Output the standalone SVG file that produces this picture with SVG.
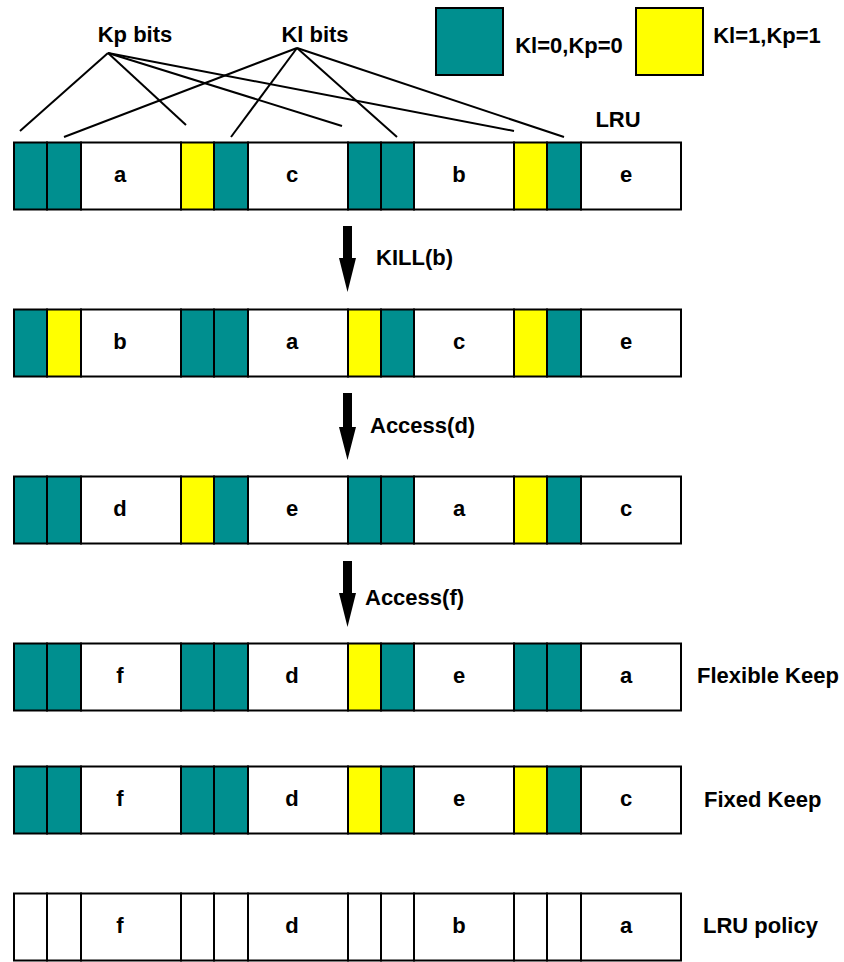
<svg xmlns="http://www.w3.org/2000/svg" width="844" height="962" viewBox="0 0 844 962">
<style>
.t{fill:#008F8F;stroke:#000;stroke-width:2}
.y{fill:#FFFF00;stroke:#000;stroke-width:2}
.w{fill:#FFFFFF;stroke:#000;stroke-width:2}
.lbl{font-family:"Liberation Sans",Arial,sans-serif;font-weight:bold;font-size:22px;fill:#000}
.c{text-anchor:middle}
.ln{stroke:#000;stroke-width:2;fill:none}
.arr{fill:#000}
</style>
<rect x="0" y="0" width="844" height="962" fill="#FFFFFF"/>
<g id="connectors">
<line class="ln" x1="108" y1="53" x2="20" y2="131"/>
<line class="ln" x1="108" y1="53" x2="186" y2="125"/>
<line class="ln" x1="108" y1="53" x2="342" y2="126"/>
<line class="ln" x1="108" y1="53" x2="514" y2="131"/>
<line class="ln" x1="297" y1="48" x2="64" y2="137"/>
<line class="ln" x1="297" y1="48" x2="231" y2="137"/>
<line class="ln" x1="297" y1="48" x2="397" y2="137"/>
<line class="ln" x1="297" y1="48" x2="564" y2="137"/>
<polygon class="arr" points="343,226 352,226 352,258 356,258 347.5,292 339,258 343,258"/>
<polygon class="arr" points="343,393 352,393 352,427 356,427 347.5,460 339,427 343,427"/>
<polygon class="arr" points="343,561 352,561 352,593 356,593 347.5,627 339,593 343,593"/>
</g>
<g id="labels">
<text class="lbl c" x="135" y="42">Kp bits</text>
<text class="lbl c" x="315" y="42">Kl bits</text>
<text class="lbl c" x="618" y="127">LRU</text>
<text class="lbl" x="376" y="265">KILL(b)</text>
<text class="lbl" x="370" y="433">Access(d)</text>
<text class="lbl" x="365" y="605">Access(f)</text>
<text class="lbl" x="697" y="683">Flexible Keep</text>
<text class="lbl" x="704" y="807">Fixed Keep</text>
<text class="lbl" x="703" y="933">LRU policy</text>
</g>
<g id="legend">
<rect class="t" x="436" y="8" width="67" height="67"/>
<text class="lbl c" x="569" y="53">Kl=0,Kp=0</text>
<rect class="y" x="636" y="8" width="67" height="67"/>
<text class="lbl c" x="767" y="43">Kl=1,Kp=1</text>
</g>
<g id="row1" transform="translate(0,142.5)">
<rect class="t" x="14" y="0" width="33" height="67"/><rect class="t" x="47" y="0" width="34" height="67"/>
<rect class="w" x="81" y="0" width="100" height="67"/>
<rect class="y" x="181" y="0" width="33" height="67"/><rect class="t" x="214" y="0" width="34" height="67"/>
<rect class="w" x="248" y="0" width="100" height="67"/>
<rect class="t" x="348" y="0" width="33" height="67"/><rect class="t" x="381" y="0" width="33" height="67"/>
<rect class="w" x="414" y="0" width="100" height="67"/>
<rect class="y" x="514" y="0" width="33" height="67"/><rect class="t" x="547" y="0" width="34" height="67"/>
<rect class="w" x="581" y="0" width="100" height="67"/>
<text class="lbl c" x="120" y="39.5">a</text><text class="lbl c" x="292" y="39.5">c</text><text class="lbl c" x="459" y="39.5">b</text><text class="lbl c" x="626" y="39.5">e</text>
</g>
<g id="row2" transform="translate(0,309.5)">
<rect class="t" x="14" y="0" width="33" height="67"/><rect class="y" x="47" y="0" width="34" height="67"/>
<rect class="w" x="81" y="0" width="100" height="67"/>
<rect class="t" x="181" y="0" width="33" height="67"/><rect class="t" x="214" y="0" width="34" height="67"/>
<rect class="w" x="248" y="0" width="100" height="67"/>
<rect class="y" x="348" y="0" width="33" height="67"/><rect class="t" x="381" y="0" width="33" height="67"/>
<rect class="w" x="414" y="0" width="100" height="67"/>
<rect class="y" x="514" y="0" width="33" height="67"/><rect class="t" x="547" y="0" width="34" height="67"/>
<rect class="w" x="581" y="0" width="100" height="67"/>
<text class="lbl c" x="120" y="39.5">b</text><text class="lbl c" x="292" y="39.5">a</text><text class="lbl c" x="459" y="39.5">c</text><text class="lbl c" x="626" y="39.5">e</text>
</g>
<g id="row3" transform="translate(0,476.5)">
<rect class="t" x="14" y="0" width="33" height="67"/><rect class="t" x="47" y="0" width="34" height="67"/>
<rect class="w" x="81" y="0" width="100" height="67"/>
<rect class="y" x="181" y="0" width="33" height="67"/><rect class="t" x="214" y="0" width="34" height="67"/>
<rect class="w" x="248" y="0" width="100" height="67"/>
<rect class="t" x="348" y="0" width="33" height="67"/><rect class="t" x="381" y="0" width="33" height="67"/>
<rect class="w" x="414" y="0" width="100" height="67"/>
<rect class="y" x="514" y="0" width="33" height="67"/><rect class="t" x="547" y="0" width="34" height="67"/>
<rect class="w" x="581" y="0" width="100" height="67"/>
<text class="lbl c" x="120" y="39.5">d</text><text class="lbl c" x="292" y="39.5">e</text><text class="lbl c" x="459" y="39.5">a</text><text class="lbl c" x="626" y="39.5">c</text>
</g>
<g id="row4" transform="translate(0,643.5)">
<rect class="t" x="14" y="0" width="33" height="67"/><rect class="t" x="47" y="0" width="34" height="67"/>
<rect class="w" x="81" y="0" width="100" height="67"/>
<rect class="t" x="181" y="0" width="33" height="67"/><rect class="t" x="214" y="0" width="34" height="67"/>
<rect class="w" x="248" y="0" width="100" height="67"/>
<rect class="y" x="348" y="0" width="33" height="67"/><rect class="t" x="381" y="0" width="33" height="67"/>
<rect class="w" x="414" y="0" width="100" height="67"/>
<rect class="t" x="514" y="0" width="33" height="67"/><rect class="t" x="547" y="0" width="34" height="67"/>
<rect class="w" x="581" y="0" width="100" height="67"/>
<text class="lbl c" x="120" y="39.5">f</text><text class="lbl c" x="292" y="39.5">d</text><text class="lbl c" x="459" y="39.5">e</text><text class="lbl c" x="626" y="39.5">a</text>
</g>
<g id="row5" transform="translate(0,766.5)">
<rect class="t" x="14" y="0" width="33" height="67"/><rect class="t" x="47" y="0" width="34" height="67"/>
<rect class="w" x="81" y="0" width="100" height="67"/>
<rect class="t" x="181" y="0" width="33" height="67"/><rect class="t" x="214" y="0" width="34" height="67"/>
<rect class="w" x="248" y="0" width="100" height="67"/>
<rect class="y" x="348" y="0" width="33" height="67"/><rect class="t" x="381" y="0" width="33" height="67"/>
<rect class="w" x="414" y="0" width="100" height="67"/>
<rect class="y" x="514" y="0" width="33" height="67"/><rect class="t" x="547" y="0" width="34" height="67"/>
<rect class="w" x="581" y="0" width="100" height="67"/>
<text class="lbl c" x="120" y="39.5">f</text><text class="lbl c" x="292" y="39.5">d</text><text class="lbl c" x="459" y="39.5">e</text><text class="lbl c" x="626" y="39.5">c</text>
</g>
<g id="row6" transform="translate(0,893.5)">
<rect class="w" x="14" y="0" width="33" height="67"/><rect class="w" x="47" y="0" width="34" height="67"/>
<rect class="w" x="81" y="0" width="100" height="67"/>
<rect class="w" x="181" y="0" width="33" height="67"/><rect class="w" x="214" y="0" width="34" height="67"/>
<rect class="w" x="248" y="0" width="100" height="67"/>
<rect class="w" x="348" y="0" width="33" height="67"/><rect class="w" x="381" y="0" width="33" height="67"/>
<rect class="w" x="414" y="0" width="100" height="67"/>
<rect class="w" x="514" y="0" width="33" height="67"/><rect class="w" x="547" y="0" width="34" height="67"/>
<rect class="w" x="581" y="0" width="100" height="67"/>
<text class="lbl c" x="120" y="39.5">f</text><text class="lbl c" x="292" y="39.5">d</text><text class="lbl c" x="459" y="39.5">b</text><text class="lbl c" x="626" y="39.5">a</text>
</g>
</svg>
